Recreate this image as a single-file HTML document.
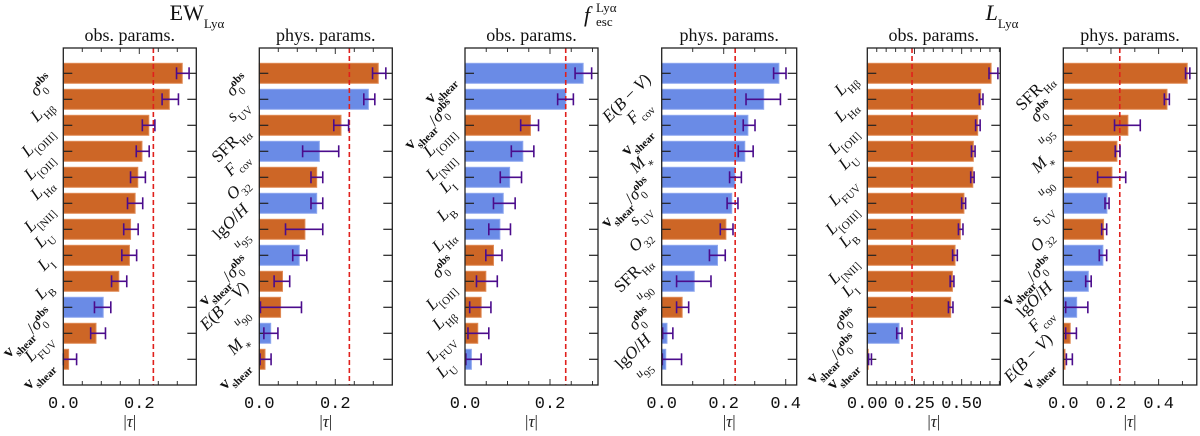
<!DOCTYPE html>
<html><head><meta charset="utf-8">
<style>
html,body{margin:0;padding:0;background:#fff;}
svg{display:block;}
.ser{font-family:"Liberation Serif","DejaVu Serif",serif;}
.mono{font-family:"Liberation Mono","DejaVu Sans Mono",monospace;}
</style></head>
<body>
<svg id="chart" width="1200" height="436" viewBox="0 0 1200 436" xmlns="http://www.w3.org/2000/svg"></svg>
<script>
// ---------- data ----------
const p1Labels=["sig","LHb","LOIII","LOII","LHa","LNII","LU","LI","LB","vsig","LFUV","vsh"];
const p1Values=[0.313,0.279,0.225,0.207,0.196,0.189,0.177,0.174,0.146,0.105,0.086,0.014];
const p1Lo=[0.298,0.260,0.208,0.192,0.177,0.169,0.159,0.154,0.127,0.082,0.072,0.000];
const p1Hi=[0.331,0.303,0.241,0.226,0.216,0.209,0.197,0.193,0.167,0.125,0.111,0.035];
const p1Blue=[0,0,0,0,0,0,0,0,0,1,0,0];

const p2Labels=["sig","sUV","SFR","Fcov","O32","lgOH","u95","vsig","EBV","u90","Mstar","vsh"];
const p2Values=[0.313,0.287,0.215,0.158,0.151,0.151,0.120,0.105,0.061,0.056,0.030,0.015];
const p2Lo=[0.298,0.275,0.196,0.114,0.136,0.136,0.069,0.088,0.039,0.003,0.012,0.002];
const p2Hi=[0.333,0.304,0.235,0.209,0.167,0.167,0.167,0.125,0.080,0.111,0.049,0.031];
const p2Blue=[0,1,0,1,0,1,0,1,0,0,1,0];

const p3Labels=["vsh","vsig","LOIII","LNII","LI","LB","LHa","sig","LOII","LHb","LFUV","LU"];
const p3Values=[0.278,0.237,0.154,0.136,0.105,0.090,0.082,0.067,0.049,0.038,0.030,0.015];
const p3Lo=[0.259,0.218,0.131,0.109,0.083,0.067,0.056,0.049,0.027,0.011,0.007,0.002];
const p3Hi=[0.298,0.255,0.173,0.162,0.133,0.118,0.107,0.087,0.076,0.061,0.056,0.038];
const p3Blue=[1,1,0,1,1,1,1,0,0,0,0,1];

const p4Labels=["EBV","Fcov","vsh","Mstar","vsig","sUV","O32","SFR","u90","sig","lgOH","u95"];
const p4Values=[0.378,0.329,0.278,0.268,0.236,0.226,0.207,0.180,0.105,0.066,0.017,0.013];
const p4Lo=[0.361,0.272,0.263,0.247,0.219,0.211,0.189,0.154,0.048,0.048,0.003,0.002];
const p4Hi=[0.401,0.383,0.301,0.295,0.257,0.246,0.230,0.205,0.159,0.087,0.036,0.064];
const p4Blue=[1,1,1,1,1,1,0,1,1,0,1,1];

const p5Labels=["LHb","LHa","LOII","LU","LFUV","LOIII","LB","LNII","LI","sig","vsig","vsh"];
const p5Values=[0.656,0.601,0.585,0.562,0.559,0.512,0.493,0.465,0.451,0.442,0.168,0.005];
const p5Lo=[0.645,0.594,0.574,0.552,0.548,0.500,0.483,0.452,0.439,0.430,0.156,0.007];
const p5Hi=[0.692,0.613,0.598,0.571,0.566,0.521,0.507,0.477,0.459,0.454,0.184,0.022];
const p5Blue=[0,0,0,0,0,0,0,0,0,0,1,0];

const p6Labels=["SFR","sig","u95","Mstar","u90","sUV","O32","vsig","lgOH","Fcov","EBV","vsh"];
const p6Values=[0.520,0.435,0.271,0.225,0.204,0.183,0.169,0.166,0.105,0.056,0.029,0.007];
const p6Lo=[0.513,0.424,0.215,0.218,0.144,0.175,0.161,0.151,0.094,0.010,0.010,0.013];
const p6Hi=[0.531,0.445,0.323,0.238,0.262,0.192,0.182,0.182,0.117,0.103,0.055,0.038];
const p6Blue=[0,0,0,0,0,1,0,1,1,1,0,0];

const xTicks1=[0.0,0.2]; const xTickLabels1=["0.0","0.2"];
const xTicks4=[0.0,0.2,0.4]; const xTickLabels4=["0.0","0.2","0.4"];
const xTicks5=[0.0,0.25,0.5]; const xTickLabels5=["0.00","0.25","0.50"];
const threshold=0.237;

// ---------- label markup ----------
const S='baseline-shift="sub" font-size="11"', P='baseline-shift="super" font-size="11"';
const LBL={
 sig:`<tspan font-style="italic">σ</tspan><tspan ${S}>0</tspan><tspan ${P} font-weight="bold" dx="-6">obs</tspan>`,
 LHb:`<tspan font-style="italic">L</tspan><tspan ${S}>Hβ</tspan>`, LHa:`<tspan font-style="italic">L</tspan><tspan ${S}>Hα</tspan>`,
 LOIII:`<tspan font-style="italic">L</tspan><tspan ${S}>[OIII]</tspan>`, LOII:`<tspan font-style="italic">L</tspan><tspan ${S}>[OII]</tspan>`, LNII:`<tspan font-style="italic">L</tspan><tspan ${S}>[NII]</tspan>`,
 LU:`<tspan font-style="italic">L</tspan><tspan ${S}>U</tspan>`, LI:`<tspan font-style="italic">L</tspan><tspan ${S}>I</tspan>`, LB:`<tspan font-style="italic">L</tspan><tspan ${S}>B</tspan>`, LFUV:`<tspan font-style="italic">L</tspan><tspan ${S}>FUV</tspan>`,
 vsig:`<tspan font-weight="bold">v</tspan><tspan ${S} font-weight="bold">shear</tspan>/<tspan font-style="italic">σ</tspan><tspan ${S}>0</tspan><tspan ${P} font-weight="bold" dx="-6">obs</tspan>`,
 vsh:`<tspan font-weight="bold">v</tspan><tspan ${S} font-weight="bold">shear</tspan>`,
 sUV:`<tspan font-style="italic">s</tspan><tspan ${S}>UV</tspan>`,
 SFR:`SFR<tspan ${S}>Hα</tspan>`, Fcov:`<tspan font-style="italic">F</tspan><tspan ${S}>cov</tspan>`,
 O32:`<tspan font-style="italic">O</tspan><tspan ${S}>32</tspan>`, lgOH:`lg<tspan font-style="italic">O</tspan>/<tspan font-style="italic">H</tspan>`,
 u95:`<tspan font-style="italic" font-size="12">u</tspan><tspan ${S}>95</tspan>`, u90:`<tspan font-style="italic" font-size="12">u</tspan><tspan ${S}>90</tspan>`,
 EBV:`<tspan font-style="italic">E</tspan>(<tspan font-style="italic">B</tspan> − <tspan font-style="italic">V</tspan>)`,
 Mstar:`<tspan font-style="italic">M</tspan><tspan ${S}>∗</tspan>`
};

const panels=[
 {x0:63.3,w:133,scale:380,labels:p1Labels,vals:p1Values,lo:p1Lo,hi:p1Hi,blue:p1Blue,ticks:xTicks1,tl:xTickLabels1,minor:0.05,sub:"obs. params."},
 {x0:259.3,w:133,scale:380,labels:p2Labels,vals:p2Values,lo:p2Lo,hi:p2Hi,blue:p2Blue,ticks:xTicks1,tl:xTickLabels1,minor:0.05,sub:"phys. params."},
 {x0:465,w:133,scale:425,labels:p3Labels,vals:p3Values,lo:p3Lo,hi:p3Hi,blue:p3Blue,ticks:xTicks1,tl:xTickLabels1,minor:0.05,sub:"obs. params."},
 {x0:661.7,w:135,scale:310,labels:p4Labels,vals:p4Values,lo:p4Lo,hi:p4Hi,blue:p4Blue,ticks:xTicks4,tl:xTickLabels4,minor:0.1,sub:"phys. params."},
 {x0:867.3,w:133,scale:188.7,labels:p5Labels,vals:p5Values,lo:p5Lo,hi:p5Hi,blue:p5Blue,ticks:xTicks5,tl:xTickLabels5,minor:0.05,sub:"obs. params."},
 {x0:1063.3,w:133.5,scale:238.3,labels:p6Labels,vals:p6Values,lo:p6Lo,hi:p6Hi,blue:p6Blue,ticks:xTicks4,tl:xTickLabels4,minor:0.1,sub:"phys. params."}
];
const TOP=48, BOT=385;
const yRow=i=>73.3+26*i;
const NS="http://www.w3.org/2000/svg";
const svg=document.getElementById('chart');
function mk(tag,attrs,parent){const e=document.createElementNS(NS,tag);for(const k in attrs)e.setAttribute(k,attrs[k]);(parent||svg).appendChild(e);return e;}

panels.forEach((p,pi)=>{
 const g=mk('g',{});
 
 
 const xs=v=>p.x0+v*p.scale;
 p.vals.forEach((v,i)=>{
  const col=p.blue[i]?'#6a8be6':'#cd6626';
  const edge=p.blue[i]?'#8fa8ef':'#e08a55';
  const r=mk('rect',{x:p.x0,y:yRow(i)-10,width:Math.max(0,xs(v)-p.x0),height:20,fill:col,stroke:edge,'stroke-width':1},g);
  
  
 });
 p.vals.forEach((v,i)=>{
  mk('line',{x1:p.x0,x2:p.x0+9,y1:yRow(i),y2:yRow(i),stroke:'#222','stroke-width':1.2},g);
  mk('line',{x1:p.x0+p.w,x2:p.x0+p.w-9,y1:yRow(i),y2:yRow(i),stroke:'#222','stroke-width':1.2},g);
 });
 const th=mk('line',{x1:xs(threshold),x2:xs(threshold),y1:TOP,y2:BOT,stroke:'#e0201c','stroke-width':1.6,'stroke-dasharray':'5,3'},g);
 
 
 p.vals.forEach((v,i)=>{
  const eg=mk('g',{stroke:'#4b0c8c','stroke-width':1.6},g);
  
  
  const y=yRow(i);
  mk('line',{x1:xs(p.lo[i]),x2:Math.min(xs(p.hi[i]),p.x0+p.w),y1:y,y2:y},eg);
  mk('line',{x1:xs(p.lo[i]),x2:xs(p.lo[i]),y1:y-6,y2:y+6},eg);
  if(xs(p.hi[i])<=p.x0+p.w) mk('line',{x1:xs(p.hi[i]),x2:xs(p.hi[i]),y1:y-6,y2:y+6},eg);
 });
 const maxV=p.w/p.scale;
 for(let k=1;k*p.minor<maxV-1e-6;k++){
  const v=k*p.minor;const major=p.ticks.some(t=>Math.abs(t-v)<1e-6);
  const L=major?6:4;
  mk('line',{x1:xs(v),x2:xs(v),y1:TOP,y2:TOP+L,stroke:'#333','stroke-width':1},g);
  mk('line',{x1:xs(v),x2:xs(v),y1:BOT,y2:BOT-L,stroke:'#333','stroke-width':1},g);
 }
 const fr=mk('rect',{x:p.x0,y:TOP,width:p.w,height:BOT-TOP,fill:'none',stroke:'#222','stroke-width':1.3},g);
 
 
 p.ticks.forEach((t,k)=>{
  const tx=mk('text',{x:xs(t),y:408,'text-anchor':'middle','font-size':17,class:'mono',fill:'#111'},g);
  tx.textContent=p.tl[k];
  
  
 });
 const xl=mk('text',{x:p.x0+p.w/2,y:427,'text-anchor':'middle','font-size':17,class:'ser',fill:'#222'},g);
 xl.innerHTML='|<tspan font-style="italic">τ</tspan>|';
 
 
 const st=mk('text',{x:p.x0+p.w/2,y:41,'text-anchor':'middle','font-size':18,class:'ser',fill:'#111'},g);
 st.textContent=p.sub;
 
 
 p.labels.forEach((l,i)=>{
  const ax=p.x0-10, ay=yRow(i)+7;
  const t=mk('text',{x:ax,y:ay,'text-anchor':'end','font-size':17,class:'ser',fill:'#111',transform:`rotate(-45 ${ax} ${ay})`},g);
  t.innerHTML=LBL[l];
  
  
 });
});

// group titles
const titles=[
 {x:197,html:'EW<tspan baseline-shift="sub" font-size="13">Lyα</tspan>',name:'title-ew'},
 {x:1002,html:'<tspan font-style="italic">L</tspan><tspan baseline-shift="sub" font-size="13">Lyα</tspan>',name:'title-llya'}
];
titles.forEach(t=>{
 const e=mk('text',{x:t.x,y:20,'text-anchor':'middle','font-size':22,class:'ser',fill:'#111'});
 e.innerHTML=t.html;
 
 
});
const fg=mk('g',{class:'ser',fill:'#111'});


const f1=mk('text',{x:584,y:22,'font-size':22,'font-style':'italic'},fg); f1.textContent='f';
const f2=mk('text',{x:596,y:12,'font-size':13},fg); f2.textContent='Lyα';
const f3=mk('text',{x:596,y:26,'font-size':13},fg); f3.textContent='esc';
</script>
</body></html>
